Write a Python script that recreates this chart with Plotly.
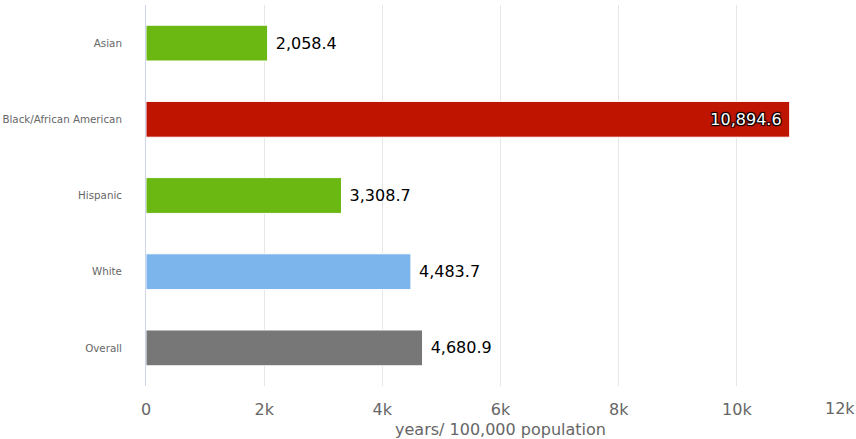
import plotly.graph_objects as go

categories = ["Asian", "Black/African American", "Hispanic", "White", "Overall"]
values = [2058.4, 10894.6, 3308.7, 4483.7, 4680.9]
colors = ["#6cb813", "#bf1500", "#6cb813", "#7cb5ec", "#777777"]
text_positions = ["outside", "inside", "outside", "outside", "outside"]
text_templates = [" %{x:,.1f}", "%{x:,.1f} ", " %{x:,.1f}", " %{x:,.1f}", " %{x:,.1f}"]
x_tick_vals = [0, 2000, 4000, 6000, 8000, 10000, 12000]
x_tick_text = ["0", "2k", "4k", "6k", "8k", "10k", ""]
last_tick_label = "12k"
x_title = "years/ 100,000 population"

outline = "1px 1px 1px #000, -1px -1px 1px #000, 1px -1px 1px #000, -1px 1px 1px #000"

fig = go.Figure(
    go.Bar(
        y=categories,
        x=values,
        orientation="h",
        marker=dict(color=colors, line=dict(color="white", width=1)),
        texttemplate=text_templates,
        textposition=text_positions,
        insidetextanchor="end",
        insidetextfont=dict(family="DejaVu Sans", size=16, color="#ffffff", shadow=outline),
        outsidetextfont=dict(family="DejaVu Sans", size=16, color="#000000", shadow="none"),
        cliponaxis=False,
        hoverinfo="skip",
    )
)

fig.update_layout(
    width=856,
    height=439,
    margin=dict(l=146, r=1, t=5, b=53),
    plot_bgcolor="white",
    paper_bgcolor="white",
    bargap=0.53,
    showlegend=False,
    font=dict(family="DejaVu Sans", color="#666666"),
)

fig.update_xaxes(
    automargin=False,
    range=[0, 12000],
    tickvals=x_tick_vals,
    ticktext=x_tick_text,
    showgrid=True,
    gridcolor="#e6e6e6",
    gridwidth=1,
    zeroline=False,
    showline=False,
    tickfont=dict(family="DejaVu Sans", size=16, color="#666666"),
    ticklabelstandoff=12,
    title=dict(text=x_title, font=dict(family="DejaVu Sans", size=16, color="#666666"), standoff=6),
)

fig.update_yaxes(
    automargin=False,
    categoryorder="array",
    categoryarray=categories,
    autorange="reversed",
    showgrid=False,
    zeroline=False,
    showline=True,
    linecolor="#ccd6eb",
    linewidth=1,
    tickfont=dict(family="DejaVu Sans", size=10.3, color="#666666"),
    ticklabelstandoff=21,
)

fig.add_annotation(
    x=x_tick_vals[-1], xref="x",
    y=0, yref="paper",
    text=last_tick_label,
    showarrow=False,
    xanchor="right", yanchor="top",
    xshift=2,
    yshift=-11,
    font=dict(family="DejaVu Sans", size=16, color="#666666"),
)

fig.write_html(
    "out.html",
    config={"displayModeBar": False},
    post_script="document.body.style.margin='0px';document.body.style.overflow='hidden';",
)
